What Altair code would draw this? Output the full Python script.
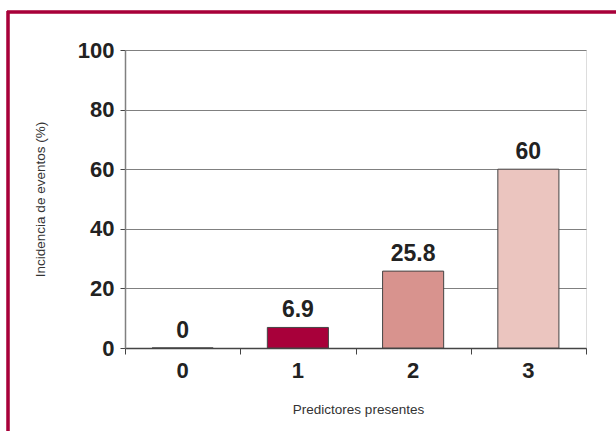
import altair as alt
import pandas as pd

categories = ["0", "1", "2", "3"]
values = [0, 6.9, 25.8, 60]
labels = ["0", "6.9", "25.8", "60"]
colors = ["#f4eeee", "#a8003a", "#d8938e", "#ebc5bf"]
boundaries = [0, 1, 2, 3, 4]
y_ticks = [0, 20, 40, 60, 80, 100]

df = pd.DataFrame({"cat": categories, "val": values, "lab": labels, "col": colors})
bdf = pd.DataFrame({"b": boundaries})

FONT = "Liberation Sans"
W, H = 461, 298

base = alt.Chart(df)

xenc = alt.X("cat:N", sort=categories,
             scale=alt.Scale(paddingInner=0, paddingOuter=0),
             axis=alt.Axis(title="Predictores presentes", labelAngle=0, ticks=False,
                           domain=True, domainColor="#444444", domainWidth=1.5,
                           labelFont=FONT, labelFontSize=22, labelFontWeight="bold",
                           labelColor="#222222", labelPadding=12,
                           titleFont=FONT, titleFontSize=13.5, titleFontWeight="normal",
                           titleColor="#333333", titleX=233, titleY=61,
                           titleBaseline="middle", grid=False))

yenc = alt.Y("val:Q", scale=alt.Scale(domain=[0, 100], nice=False),
             axis=alt.Axis(title="Incidencia de eventos (%)", values=y_ticks,
                           grid=True, gridColor="#808080", gridWidth=1.2,
                           domainColor="#808080", domainWidth=1.5,
                           tickColor="#444444", tickSize=5,
                           labelFont=FONT, labelFontSize=22, labelFontWeight="bold",
                           labelColor="#222222", labelPadding=6,
                           titleFont=FONT, titleFontSize=13.5, titleFontWeight="normal",
                           titleColor="#333333", titleX=-85, titleY=149,
                           titleAngle=-90, titleBaseline="middle"))

bars = base.mark_bar(stroke="#444444", strokeWidth=1, width={"band": 0.53}).encode(
    x=xenc, y=yenc, fill=alt.Fill("col:N", scale=None),
)

text = base.mark_text(font=FONT, fontSize=23, fontWeight="bold", color="#222222",
                      baseline="alphabetic", dy=-10).encode(
    x=alt.X("cat:N", sort=categories, bandPosition=0.5),
    y=alt.Y("val:Q"),
    text="lab:N",
)

main = alt.layer(bars, text)

ticks = alt.Chart(bdf).mark_rule(opacity=0).encode(
    x=alt.X("b:Q", scale=alt.Scale(domain=[0, 4], nice=False),
            axis=alt.Axis(orient="bottom", values=boundaries, labels=False, ticks=True,
                          tickSize=6, tickColor="#444444", domain=False, grid=False,
                          title=None)),
)

frame_top = alt.Chart(bdf).mark_rule(color="#a8003a", strokeWidth=2.5).encode(
    x=alt.value(-118), x2=alt.value(520), y=alt.value(-38))
frame_left = alt.Chart(bdf).mark_rule(color="#a8003a", strokeWidth=2.5).encode(
    x=alt.value(-117), y=alt.value(-39), y2=alt.value(400))

chart = alt.layer(main, ticks, frame_top, frame_left).resolve_scale(
    x="independent"
).properties(
    width=W, height=H,
    autosize=alt.AutoSizeParams(type="none"),
    padding={"left": 125, "top": 50, "right": 30, "bottom": 83},
).configure_view(stroke=None).configure(background="white")

chart.save("out.html", embed_options={"renderer": "svg", "actions": False})
